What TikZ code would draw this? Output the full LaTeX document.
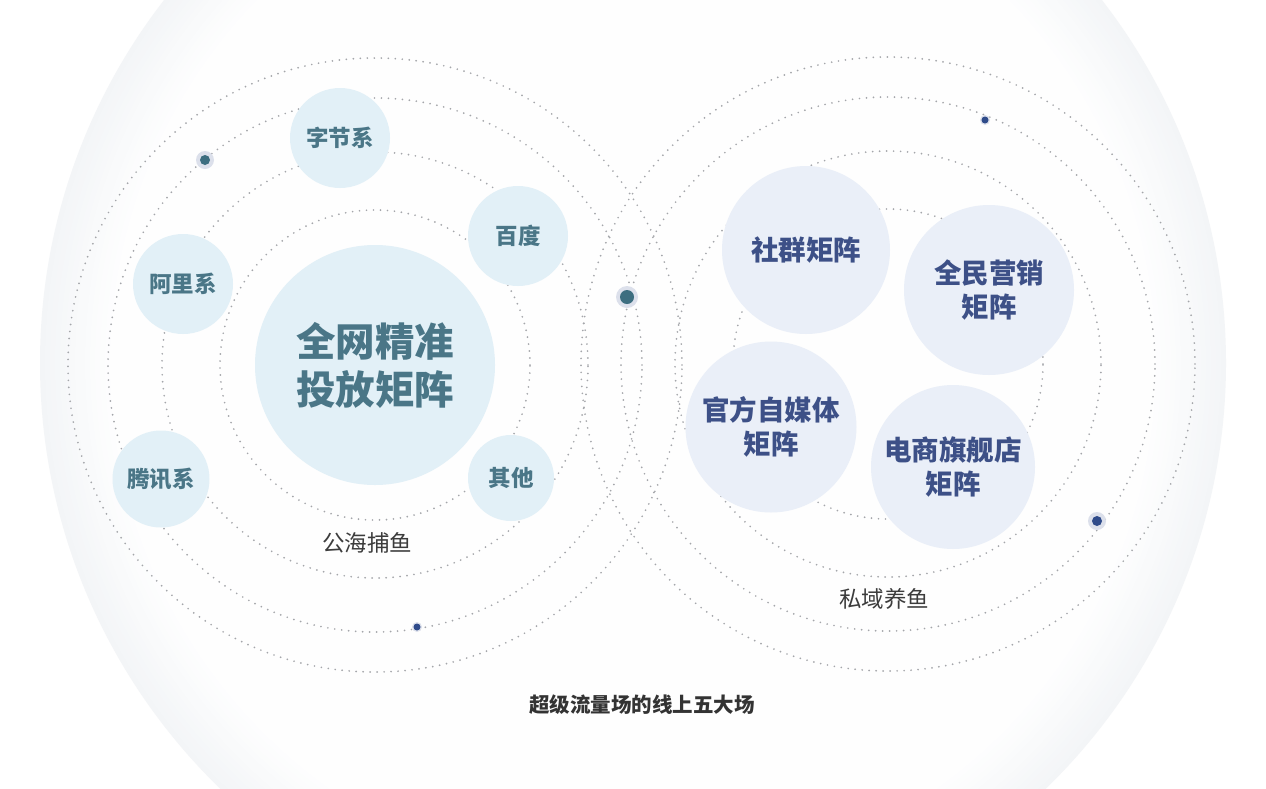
\documentclass[tikz,border=0pt]{standalone}
\usepackage{fontspec}
\newfontfamily\cjk{Noto Sans CJK SC}
\definecolor{bgEdge}{HTML}{F3F5F7}
\definecolor{ringGray}{HTML}{A4A6AA}
\definecolor{leftFill}{HTML}{E2F0F7}
\definecolor{leftText}{HTML}{4A7687}
\definecolor{rightFill}{HTML}{EAEFF8}
\definecolor{rightText}{HTML}{3D5087}
\definecolor{teal}{HTML}{3D6E80}
\definecolor{navy}{HTML}{2F4B8A}
\definecolor{halo}{HTML}{DCE0EB}
\definecolor{labelText}{HTML}{3C3C3C}
\definecolor{titleText}{HTML}{333333}
\tikzset{
  ring/.style={draw=ringGray, line width=1.9pt, dash pattern=on 0pt off 7pt, line cap=round},
  lplanet/.style={circle, fill=leftFill, text=leftText, inner sep=0pt, font=\cjk\bfseries\fontsize{22.5}{26}\selectfont, align=center},
  rplanet/.style={circle, fill=rightFill, text=rightText, inner sep=0pt, font=\cjk\bfseries\fontsize{27.5}{34}\selectfont, align=center},
  lbl/.style={text=labelText, font=\cjk\fontsize{22.5}{26}\selectfont, inner sep=0pt}
}
\begin{document}
\begin{tikzpicture}[x=1pt,y=-1pt]
\useasboundingbox (0,0) rectangle (1266,788);
\fill[white] (0,0) rectangle (1266,788);
\begin{scope}
  \clip (0,0) rectangle (1266,788);
  \foreach \i in {0,...,14} {
    \pgfmathsetmacro{\rr}{593-5*\i}
    \pgfmathsetmacro{\pc}{100-6.6*\i}
    \fill[bgEdge!\pc!white] (633,363) circle[radius=\rr pt];
  }
\end{scope}
% rings
\coordinate (lc) at (375,365);
\coordinate (rc) at (888,364);
\foreach \r in {155,213,267,307} {
  \draw[ring] (lc) circle[radius=\r pt];
  \draw[ring] (rc) circle[radius=\r pt];
}
% left planets
\node[lplanet, minimum size=240pt, font=\cjk\bfseries\fontsize{39.5}{48}\selectfont] (main) at (375,365) {全网精准\\投放矩阵};
\node[lplanet, minimum size=100pt] (zijie) at (340,138) {字节系};
\node[lplanet, minimum size=100pt] (baidu) at (518,236) {百度};
\node[lplanet, minimum size=100pt] (ali) at (183,284) {阿里系};
\node[lplanet, minimum size=97pt] (tencent) at (161,479) {腾讯系};
\node[lplanet, minimum size=86pt] (other) at (511,478) {其他};
% right planets
\node[rplanet, minimum size=168pt] (shequn) at (806,250) {社群矩阵};
\node[rplanet, minimum size=170pt] (quanmin) at (989,290) {全民营销\\矩阵};
\node[rplanet, minimum size=171pt] (guanfang) at (771,427) {官方自媒体\\矩阵};
\node[rplanet, minimum size=164pt] (dianshang) at (953,467) {电商旗舰店\\矩阵};
% dots
\fill[halo] (205,160) circle[radius=9pt];
\fill[teal] (205,160) circle[radius=5pt];
\fill[halo] (627,297) circle[radius=11pt];
\fill[teal] (627,297) circle[radius=7pt];
\fill[halo] (417,627) circle[radius=5pt];
\fill[navy] (417,627) circle[radius=3.5pt];
\fill[halo] (985,120) circle[radius=5pt];
\fill[navy] (985,120) circle[radius=3.5pt];
\fill[halo] (1097,521) circle[radius=9pt];
\fill[navy] (1097,521) circle[radius=5pt];
% labels
\node[lbl] (gonghai) at (367,543) {公海捕鱼};
\node[lbl] (siyu) at (884,599) {私域养鱼};
\node[lbl, text=titleText, font=\cjk\bfseries\fontsize{20.5}{24}\selectfont] (title) at (642,705) {超级流量场的线上五大场};
\end{tikzpicture}
\end{document}
